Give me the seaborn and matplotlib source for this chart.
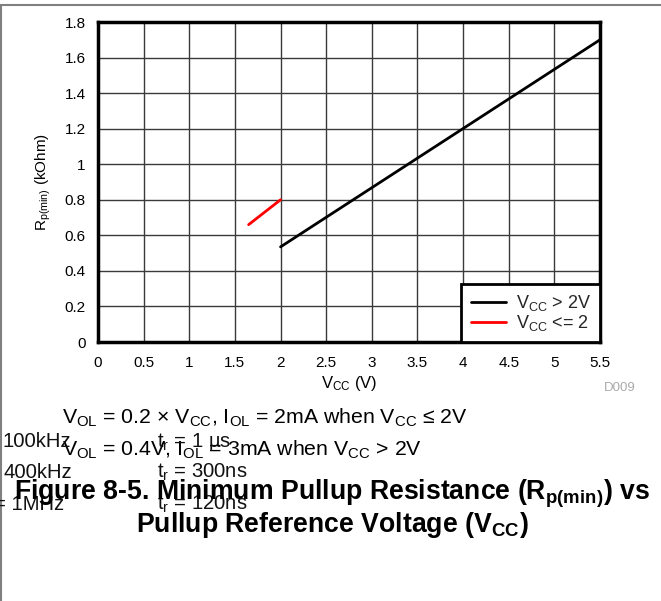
import matplotlib
matplotlib.use("Agg")
import matplotlib.pyplot as plt
from matplotlib.lines import Line2D
import numpy as np
import pandas as pd
import seaborn as sns

# Pullup resistance curves (kOhm) vs pullup reference voltage (V)
vcc_high = [2.0, 5.5]
r_high = [0.535, 1.70]
vcc_low = [1.65, 2.0]
r_low = [0.66, 0.80]
series_names = [r"$\mathregular{V_{CC}}$ > 2V", r"$\mathregular{V_{CC}}$ <= 2"]
series_colors = ["#000000", "#ff0000"]

x_ticks = [0, 0.5, 1, 1.5, 2, 2.5, 3, 3.5, 4, 4.5, 5, 5.5]
x_tick_labels = ["0", "0.5", "1", "1.5", "2", "2.5", "3", "3.5", "4", "4.5", "5", "5.5"]
y_ticks = [0, 0.2, 0.4, 0.6, 0.8, 1.0, 1.2, 1.4, 1.6, 1.8]
y_tick_labels = ["0", "0.2", "0.4", "0.6", "0.8", "1", "1.2", "1.4", "1.6", "1.8"]

df = pd.DataFrame({
    "vcc": vcc_high + vcc_low,
    "r": r_high + r_low,
    "series": [series_names[0]] * len(vcc_high) + [series_names[1]] * len(vcc_low),
})

sns.set_theme(style="white")
plt.rcParams["font.family"] = ["Liberation Sans", "DejaVu Sans"]
plt.rcParams["mathtext.fontset"] = "custom"
plt.rcParams["mathtext.rm"] = "Liberation Sans"
plt.rcParams["mathtext.it"] = "Liberation Sans:italic"
plt.rcParams["mathtext.bf"] = "Liberation Sans:bold"

W, H = 661, 601
fig = plt.figure(figsize=(W / 100, H / 100), dpi=100)
fig.patch.set_facecolor("white")


def fx(px):
    return px / W


def fy(py):
    return 1 - py / H


ax = fig.add_axes([fx(98), fy(342), fx(600) - fx(98), fy(22) - fy(342)])

sns.lineplot(data=df, x="vcc", y="r", hue="series", hue_order=series_names,
             palette=dict(zip(series_names, series_colors)), linewidth=2,
             ax=ax, legend=False, zorder=3)

ax.set_xlim(0, 5.5)
ax.set_ylim(0, 1.8)
ax.set_xticks(x_ticks)
ax.set_xticklabels(x_tick_labels)
ax.set_yticks(y_ticks)
ax.set_yticklabels(y_tick_labels)
ax.tick_params(axis="both", labelsize=11, colors="#000000", length=0)
ax.tick_params(axis="x", pad=10)
ax.tick_params(axis="y", pad=9)
ax.grid(True, color="#3a3a3a", linewidth=1.0)
ax.set_axisbelow(True)
for s in ax.spines.values():
    s.set_visible(True)
    s.set_color("black")
    s.set_linewidth(2.5)

ax.set_xlabel(r"$\mathregular{V_{CC}}$ (V)", fontsize=12, color="black", labelpad=3)
ax.set_ylabel(r"$\mathregular{R_{p(min)}}$ (kOhm)", fontsize=11, color="black", labelpad=8)

handles = [Line2D([0], [0], color=c, linewidth=2) for c in series_colors]
leg = ax.legend(handles, series_names, loc="lower right", fontsize=13,
                frameon=True, fancybox=False, borderaxespad=0,
                handlelength=1.95, handletextpad=0.55, borderpad=0.5,
                labelspacing=0.0)
leg.get_frame().set_edgecolor("black")
leg.get_frame().set_linewidth(2)
leg.get_frame().set_facecolor("white")
leg.get_frame().set_alpha(1)

fig.text(fx(604), fy(388), "D009", fontsize=9.5, color="#aaaaaa", va="center", ha="left")

# Outer frame (top and left edges)
fig.add_artist(Line2D([0, 1], [fy(5), fy(5)], transform=fig.transFigure,
                      color="#808080", linewidth=1.5))
fig.add_artist(Line2D([fx(0.7), fx(0.7)], [0, fy(5)], transform=fig.transFigure,
                      color="#808080", linewidth=1.5))

# Conditions text
fig.text(fx(62), fy(424),
         r"$\mathregular{V_{OL}}$ = 0.2 × $\mathregular{V_{CC}}$, $\mathregular{I_{OL}}$ = 2mA when $\mathregular{V_{CC}}$ ≤ 2V",
         fontsize=15.3, va="baseline", ha="left", color="black")
fig.text(fx(62), fy(456),
         r"$\mathregular{V_{OL}}$ = 0.4V, $\mathregular{I_{OL}}$ = 3mA when $\mathregular{V_{CC}}$ > 2V",
         fontsize=15.3, va="baseline", ha="left", color="black")

# Bus-speed rise-time notes
note_kw = dict(fontsize=14.6, va="baseline", ha="left", color="#111111")
fig.text(fx(3), fy(447), "100kHz", **note_kw)
fig.text(fx(157), fy(447), r"$\mathregular{t_r}$ = 1 µs", **note_kw)
fig.text(fx(3), fy(478), "400kHz", **note_kw)
fig.text(fx(157), fy(478), r"$\mathregular{t_r}$ = 300ns", **note_kw)
fig.text(fx(-6), fy(510), "= 1MHz", **note_kw)
fig.text(fx(157), fy(510), r"$\mathregular{t_r}$ = 120ns", **note_kw)

# Figure caption
fig.text(fx(332), fy(499),
         r"Figure 8-5. Minimum Pullup Resistance (R$\mathbf{_{p(min)}}$) vs",
         fontsize=19.2, fontweight="bold", va="baseline", ha="center", color="black")
fig.text(fx(332), fy(532),
         r"Pullup Reference Voltage (V$\mathbf{_{CC}}$)",
         fontsize=19.2, fontweight="bold", va="baseline", ha="center", color="black")

fig.savefig("out.png", dpi=100, facecolor="white")
